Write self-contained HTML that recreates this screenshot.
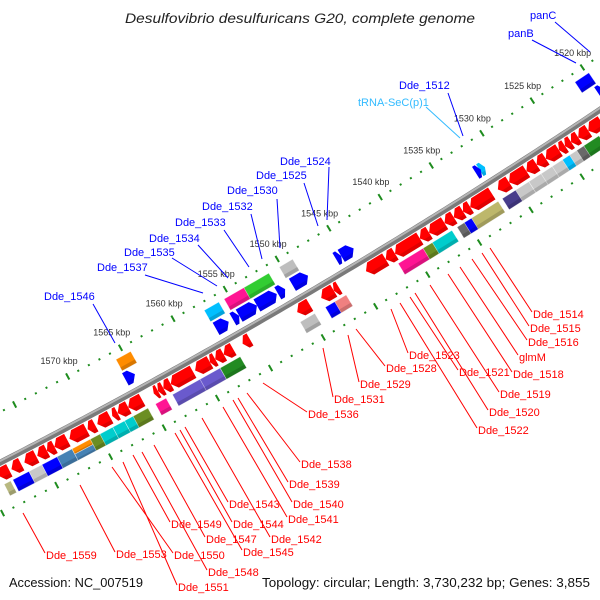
<!DOCTYPE html>
<html><head><meta charset="utf-8"><style>
html,body{margin:0;padding:0;background:#fff;width:600px;height:600px;overflow:hidden}
svg{display:block;font-family:"Liberation Sans",sans-serif}
</style></head><body>
<svg id="chart" width="600" height="600" viewBox="0 0 600 600" xmlns="http://www.w3.org/2000/svg">
<text x="300" y="23" text-anchor="middle" font-style="italic" font-size="13.5" fill="#222" textLength="350" lengthAdjust="spacingAndGlyphs">Desulfovibrio desulfuricans G20, complete genome</text>
<text x="9" y="587" font-size="13" fill="#111" textLength="134" lengthAdjust="spacingAndGlyphs">Accession: NC_007519</text>
<text x="262" y="587" font-size="13" fill="#111" textLength="328" lengthAdjust="spacingAndGlyphs">Topology: circular; Length: 3,730,232 bp; Genes: 3,855</text>
<g id="rings"></g><g id="feats"></g><g id="labels"></g>
</svg>
<script>
// ---- data (kbp) ----
const tickKbp = [1520,1525,1530,1535,1540,1545,1550,1555,1560,1565,1570];
const tickLabels = ["1520 kbp","1525 kbp","1530 kbp","1535 kbp","1540 kbp","1545 kbp","1550 kbp","1555 kbp","1560 kbp","1565 kbp","1570 kbp"];
// reverse strand CDS (red arrows) [end, start]
const revCds = [[1577.9,1578.9],[1576.8,1577.7],[1575.4,1576.5],[1574.4,1575.3],[1573.7,1574.4],[1572.5,1573.7],[1570.7,1572.3],[1569.9,1570.6],[1568.5,1569.7],[1567.8,1568.3],[1566.8,1567.8],[1565.5,1566.8],[1564.0,1564.4],[1563.5,1564.0],[1562.8,1563.5],[1560.7,1562.8],[1559.1,1560.5],[1558.6,1559.1],[1557.8,1558.6],[1556.9,1557.8],[1555.3,1556.0],[1549.6,1550.8],[1547.3,1548.5],[1546.8,1547.3],[1542.3,1544.2],[1541.4,1542.3],[1539.0,1541.4],[1538.1,1539.0],[1536.6,1538.1],[1535.7,1536.6],[1534.8,1535.7],[1534.1,1534.8],[1532.0,1534.1],[1530.3,1531.4],[1528.6,1530.3],[1527.6,1528.6],[1526.7,1527.6],[1525.4,1526.7],[1524.8,1525.4],[1524.2,1524.8],[1523.5,1524.2],[1522.5,1523.5],[1521.2,1522.5],[1519.8,1521.2]];
// reverse strand category boxes
const revBoxStart = [1578.2,1576.5,1575.3,1573.6,1572.5,1570.4,1570.4,1569.5,1568.7,1567.6,1566.6,1565.4,1563.7,1560.4,1558.6,1556.7,1549.6,1547.2,1546.6,1538.7,1537.8,1536.4,1534.8,1533.8,1531.9,1530.0,1528.9,1527.5,1526.5,1525.2,1524.7,1524.0,1523.3,1522.0];
const revBoxEnd   = [1578.8,1578.0,1576.5,1575.3,1573.9,1572.5,1572.5,1570.8,1569.9,1568.7,1567.6,1566.8,1564.7,1563.1,1560.5,1558.6,1551.0,1548.6,1547.7,1541.6,1539.2,1538.3,1535.9,1535.2,1534.5,1531.5,1530.2,1528.9,1527.7,1526.6,1525.6,1524.9,1524.2,1523.5];
const revBoxColor = ["#b8b880","#0000ff","#c8c8c8","#0000ff","#4682b4","#ff8c00","#4682b4","#6b8e23","#00cdcd","#00cdcd","#00cdcd","#6b8e23","#ff1493","#6a5acd","#6a5acd","#228b22","#bebebe","#0000ff","#f08080","#ff1493","#6b8e23","#00cdcd","#696969","#0000ff","#bdb76b","#483d8b","#c8c8c8","#c8c8c8","#c8c8c8","#c8c8c8","#00bfff","#c8c8c8","#696969","#228b22"];
const revBoxPart  = ["f","f","f","f","f","t","b","f","f","f","f","f","f","f","f","f","f","f","f","f","f","f","f","f","f","f","f","f","f","f","f","f","f","f"];
// forward strand CDS (blue arrows) [end, start]
const fwdCds = [[1565.0,1565.9],[1556.1,1557.3],[1555.1,1555.7],[1553.4,1555.1],[1551.5,1553.4],[1550.7,1551.4],[1548.5,1550.0],[1544.1,1545.3],[1545.3,1545.8],[1531.3,1531.8],[1531.7,1532.2],[1519.5,1520.1]];
const fwdCdsColor = ["#0000ff","#0000ff","#0000ff","#0000ff","#0000ff","#0000ff","#0000ff","#0000ff","#0000ff","#00bfff","#0000ff","#0000ff"];
// forward strand category boxes
const fwdBoxStart = [1564.4,1556.0,1553.1,1551.2,1548.9,1519.8];
const fwdBoxEnd   = [1565.8,1557.4,1555.5,1553.6,1550.2,1521.2];
const fwdBoxColor = ["#ff8c00","#00bfff","#ff1493","#32cd32","#bebebe","#0000ff"];
// gene labels
const redNames = ["Dde_1514","Dde_1515","Dde_1516","glmM","Dde_1518","Dde_1519","Dde_1520","Dde_1521","Dde_1522","Dde_1523","Dde_1528","Dde_1529","Dde_1531","Dde_1536","Dde_1538","Dde_1539","Dde_1540","Dde_1541","Dde_1542","Dde_1543","Dde_1544","Dde_1545","Dde_1547","Dde_1548","Dde_1549","Dde_1550","Dde_1551","Dde_1553","Dde_1559"];
const redTop = [[490,248],[482,253],[472,259],[460,267],[448,274],[430,285],[415,293],[410,297],[400,303],[391,309],[356,329],[348,335],[323,348],[263,383],[247,393],[238,398],[233,400],[223,407],[202,418],[185,427],[180,430],[175,433],[154,445],[142,452],[133,455],[112,467],[123,462],[80,485],[23,513]];
const redBot = [[532,312],[529,326],[527,340],[518,355],[512,372],[499,392],[488,410],[458,370],[477,428],[408,353],[385,366],[359,382],[333,397],[307,412],[300,462],[288,482],[292,502],[287,517],[270,537],[228,502],[232,522],[242,550],[205,537],[207,570],[170,522],[173,553],[177,585],[115,552],[45,553]];
const blueNames = ["Dde_1546","Dde_1537","Dde_1535","Dde_1534","Dde_1533","Dde_1532","Dde_1530","Dde_1525","Dde_1524","Dde_1512","tRNA-SeC(p)1","panB","panC"];
const blueText = [[44,300],[97,271],[124,256],[149,242],[175,226],[202,210],[227,194],[256,179],[280,165],[399,89],[358,106],[508,37],[530,19]];
const blueA = [[93,304],[145,275],[172,258],[198,245],[224,230],[251,214],[277,199],[304,183],[329,167],[448,93],[426,107],[532,40],[555,22]];
const blueB = [[115,343],[203,293],[217,286],[228,278],[249,267],[262,259],[280,248],[318,226],[327,220],[463,136],[460,138],[576,63],[590,52]];

// ---- geometry ----
const CX=-2795, CY=-4975, R0=6114;
function ang(k){return (57.32+(k-1530)*0.1134)*Math.PI/180;}
function pt(k,o){const a=ang(k),r=R0+o;return [CX+r*Math.cos(a),CY+r*Math.sin(a)];}
const NS="http://www.w3.org/2000/svg";
function mk(tag,parent){const e=document.createElementNS(NS,tag);parent.appendChild(e);return e;}
function poly(pts){return pts.map(p=>p[0].toFixed(2)+","+p[1].toFixed(2)).join(" ");}
const rings=document.getElementById("rings"),feats=document.getElementById("feats"),labels=document.getElementById("labels");
const K0=1512,K1=1584;
function arcPath(o){let d="";for(let k=K0;k<=K1;k+=0.5){const p=pt(k,o);d+=(d?"L":"M")+p[0].toFixed(2)+","+p[1].toFixed(2);}return d;}

// backbone
const bb=mk("path",rings);


bb.setAttribute("d",arcPath(0));bb.setAttribute("stroke","#7a7a7a");bb.setAttribute("stroke-width","6");bb.setAttribute("fill","none");
const bb2=mk("path",rings);


bb2.setAttribute("d",arcPath(-1.5));bb2.setAttribute("stroke","#b5b5b5");bb2.setAttribute("stroke-width","2");bb2.setAttribute("fill","none");

// dotted rings with ticks
[-45,46].forEach((o,ri)=>{
  for(let k=K0;k<=K1;k++){
    const major=(k%5===0);
    const e=mk("line",rings);
    
    
    const a=pt(k,o-(major?3.5:1)),b=pt(k,o+(major?3.5:1));
    e.setAttribute("x1",a[0]);e.setAttribute("y1",a[1]);e.setAttribute("x2",b[0]);e.setAttribute("y2",b[1]);
    e.setAttribute("stroke","#1e8c1e");e.setAttribute("stroke-width","2");
  }
});
tickKbp.forEach((k,i)=>{
  const p=pt(k,-59);
  const t=mk("text",rings);
  
  
  t.setAttribute("x",p[0]-2);t.setAttribute("y",p[1]);t.setAttribute("text-anchor","middle");
  t.setAttribute("font-size","9");t.setAttribute("fill","#333");t.textContent=tickLabels[i];
});

function box(k1,k2,o1,o2,color,name){
  const e=mk("polygon",feats);
  
  
  e.setAttribute("points",poly([pt(k1,o1),pt(k2,o1),pt(k2,o2),pt(k1,o2)]));
  e.setAttribute("fill",color);e.setAttribute("stroke","rgba(255,255,255,0.6)");e.setAttribute("stroke-width","0.6");
  const s=mk("polygon",feats);
  
  
  const om=o1+(o2-o1)*0.7;
  s.setAttribute("points",poly([pt(k1,om),pt(k2,om),pt(k2,o2),pt(k1,o2)]));
  s.setAttribute("fill","rgba(0,0,0,0.15)");
}
// arrow: tip at kTip side
function arrow(kBase,kTip,o1,o2,color,name){
  const len=Math.abs(kTip-kBase);const head=Math.min(0.45,len*0.5);const dir=kTip>kBase?1:-1;
  const kh=kTip-dir*head, om=(o1+o2)/2;
  const e=mk("polygon",feats);
  
  
  e.setAttribute("points",poly([pt(kBase,o1),pt(kh,o1),pt(kTip,om),pt(kh,o2),pt(kBase,o2)]));
  e.setAttribute("fill",color);
  const s=mk("polygon",feats);
  
  
  const os=o1+(o2-o1)*0.72;
  const kss=kh+dir*head*0.56;
  s.setAttribute("points",poly([pt(kBase,os),pt(kss,os),pt(kh,o2),pt(kBase,o2)]));
  s.setAttribute("fill","rgba(0,0,0,0.12)");
}
revCds.forEach(([a,b])=>{arrow(a,b,4,18,"#ff0000","reverse-cds-arrow");});
revBoxStart.forEach((s,i)=>{
  let o1=21,o2=34;
  if(revBoxPart[i]==="t"){o2=27;} else if(revBoxPart[i]==="b"){o1=27;}
  box(s,revBoxEnd[i],o1,o2,revBoxColor[i],"reverse-feature-box");
});
fwdCds.forEach(([a,b],i)=>{arrow(b,a,-22,-8,fwdCdsColor[i],"forward-cds-arrow");});
fwdBoxStart.forEach((s,i)=>{box(s,fwdBoxEnd[i],-37,-24,fwdBoxColor[i],"forward-feature-box");});

// labels
redNames.forEach((n,i)=>{
  const l=mk("line",labels);
  
  
  l.setAttribute("x1",redTop[i][0]);l.setAttribute("y1",redTop[i][1]);l.setAttribute("x2",redBot[i][0]);l.setAttribute("y2",redBot[i][1]);
  l.setAttribute("stroke","#ff0000");l.setAttribute("stroke-width","1");
  const t=mk("text",labels);
  
  
  t.setAttribute("x",redBot[i][0]+1);t.setAttribute("y",redBot[i][1]+6);
  t.setAttribute("font-size","11");t.setAttribute("fill","#ff0000");t.textContent=n;
});
blueNames.forEach((n,i)=>{
  const c=n.startsWith("tRNA")?"#33bbff":"#0000ff";
  const l=mk("line",labels);
  
  
  l.setAttribute("x1",blueA[i][0]);l.setAttribute("y1",blueA[i][1]);l.setAttribute("x2",blueB[i][0]);l.setAttribute("y2",blueB[i][1]);
  l.setAttribute("stroke",c);l.setAttribute("stroke-width","1");
  const t=mk("text",labels);
  
  
  t.setAttribute("x",blueText[i][0]);t.setAttribute("y",blueText[i][1]);
  t.setAttribute("font-size","11");t.setAttribute("fill",c);t.textContent=n;
});
</script>
</body></html>
